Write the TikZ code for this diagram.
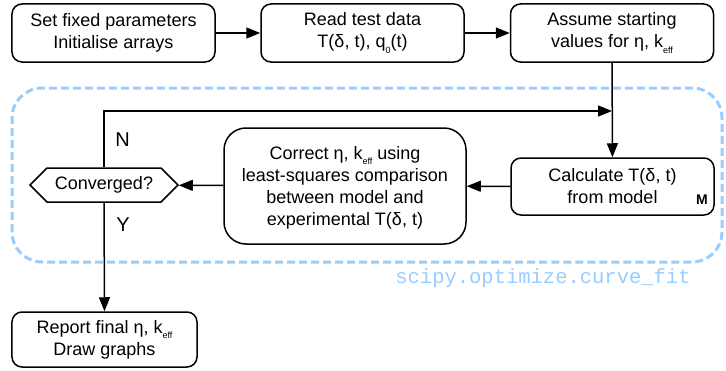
\documentclass[tikz,border=0pt]{standalone}
\usepackage{fontspec}
\setmainfont{Liberation Sans}
\setmonofont{Liberation Mono}
\usetikzlibrary{arrows.meta,shapes.symbols}
\definecolor{fitblue}{RGB}{153,204,255}
\newcommand{\lowsub}[1]{\raisebox{-0.55ex}{\fontsize{9bp}{9bp}\selectfont #1}}
\tikzset{
  stagebox/.style={draw, line width=1.5bp, rounded corners=10bp, align=center,
    minimum width=203bp, minimum height=58bp, inner sep=2bp},
  flowarr/.style={line width=1.5bp, -{Triangle[length=14bp,width=11bp]}},
}

\begin{document}
\begin{tikzpicture}[x=1bp, y=1bp, font=\fontsize{18bp}{22bp}\selectfont]
\useasboundingbox (0,0) rectangle (726,370);

% region handled by the fitting routine
\draw[fitblue, line width=3bp, dash pattern=on 8bp off 4bp, rounded corners=30bp]
  (12,108) rectangle (722,282);
\node[fitblue, anchor=base, font=\fontsize{20.5bp}{22bp}\selectfont\ttfamily]
  (fitlabel) at (543,87) {scipy.optimize.curve\_fit};

% top row
\node[stagebox] (setup) at (113.5,337) {Set fixed parameters\\Initialise arrays};
\node[stagebox] (readdata) at (362.5,337) {Read test data\\T(δ, t), q\lowsub{0}(t)};
\node[stagebox] (guess) at (612,337) {Assume starting\\values for η, k\lowsub{eff}};

% loop
\node[stagebox, minimum height=57bp] (calc) at (612.5,183.5) {Calculate T(δ, t)\\from model};
\node[font=\fontsize{14bp}{14bp}\selectfont\bfseries] (mflag) at (702,170) {M};
\node[stagebox, minimum width=242bp, minimum height=116bp, rounded corners=22bp,
  text depth=0pt] (correct) at (345,184)
  {Correct η, k\lowsub{eff} using\\least-squares comparison\\between model and\\experimental T(δ, t)};
\node[draw, line width=1.5bp, signal, signal to=west and east, signal pointer angle=90,
  minimum width=148bp, minimum height=34bp, inner sep=1bp] (conv) at (104,185) {Converged?};

\node[stagebox, minimum width=185bp, minimum height=55bp] (report) at (104.5,30.5)
  {Report final η, k\lowsub{eff}\\Draw graphs};

\coordinate (rejoin) at (612,259);

\draw[flowarr] (setup) -- (readdata);
\draw[flowarr] (readdata) -- (guess);
\draw[flowarr] (guess) -- (calc);
\draw[flowarr] (calc) -- (correct);
\draw[flowarr] (correct) -- (conv);
\draw[flowarr] (conv.north) |- (rejoin);
\draw[flowarr] (conv.south) -- (report.north);

\node[font=\fontsize{20bp}{20bp}\selectfont] (nolabel) at (122.5,230.5) {N};
\node[font=\fontsize{20bp}{20bp}\selectfont] (yeslabel) at (123,145.5) {Y};

\end{tikzpicture}
\end{document}
